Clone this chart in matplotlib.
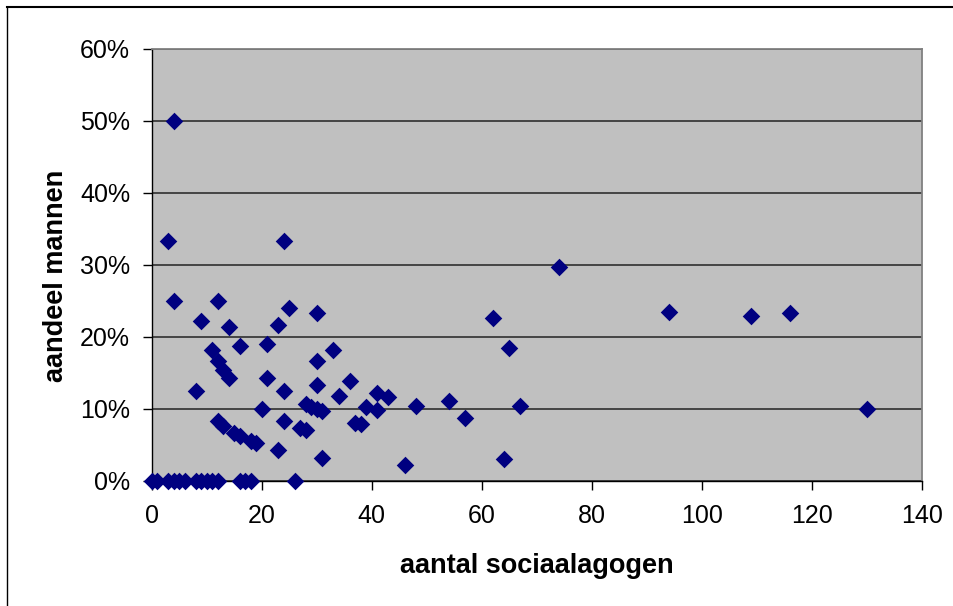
import numpy as np
import matplotlib.pyplot as plt
from matplotlib.lines import Line2D
from matplotlib.ticker import PercentFormatter

plt.rcParams['font.family'] = ['Liberation Sans', 'DejaVu Sans']

# number of sociaalagogen per organisation and share of men
aantal = [0, 1, 3, 4, 5, 6, 8, 9, 10, 11, 12, 16, 17, 18, 26,
          4, 3, 24, 74, 4, 12, 9, 14, 11, 12, 13, 14, 16, 8,
          12, 13, 15, 16, 18, 19, 20, 21, 21, 23, 23, 24, 24, 25,
          27, 28, 28, 29, 30, 30, 30, 30, 31, 31, 33, 34, 36, 37,
          38, 39, 41, 41, 43, 46, 48, 54, 57, 62, 64, 65, 67,
          94, 109, 116, 130]
aandeel = [0, 0, 0, 0, 0, 0, 0, 0, 0, 0, 0, 0, 0, 0, 0,
           0.500, 0.333, 0.333, 0.297, 0.250, 0.250, 0.222, 0.214, 0.182, 0.167, 0.154, 0.143, 0.1875, 0.125,
           0.083, 0.077, 0.067, 0.0625, 0.056, 0.053, 0.100, 0.190, 0.143, 0.217, 0.043, 0.125, 0.083, 0.240,
           0.074, 0.071, 0.107, 0.103, 0.233, 0.167, 0.133, 0.100, 0.097, 0.032, 0.182, 0.118, 0.139, 0.081,
           0.079, 0.103, 0.122, 0.098, 0.116, 0.022, 0.104, 0.111, 0.088, 0.226, 0.031, 0.185, 0.104,
           0.234, 0.229, 0.233, 0.100]

fig = plt.figure(figsize=(9.54, 6.06), dpi=100)
ax = fig.add_axes([0.159, 0.2063, 0.8071, 0.7133])
ax.set_facecolor('#C0C0C0')

ax.scatter(aantal, aandeel, marker='D', s=80, color='#000080', linewidths=0,
           zorder=3, clip_on=False)

ax.set_xlim(0, 140)
ax.set_ylim(0, 0.6)
ax.set_xticks(np.arange(0, 141, 20))
ax.set_yticks(np.arange(0, 0.61, 0.1))
ax.yaxis.set_major_formatter(PercentFormatter(1.0, decimals=0))
ax.grid(axis='y', color='#3a3a3a', linewidth=1.3, zorder=1)
ax.set_axisbelow(True)

for side in ['top', 'right']:
    ax.spines[side].set_color('#808080')
    ax.spines[side].set_linewidth(1.3)
for side in ['left', 'bottom']:
    ax.spines[side].set_color('black')
    ax.spines[side].set_linewidth(1.0)

ax.tick_params(axis='both', direction='out', length=6.5, width=1.0, labelsize=18)
ax.tick_params(axis='y', pad=9)
ax.tick_params(axis='x', pad=10)

ax.set_xlabel('aantal sociaalagogen', fontsize=19.5, fontweight='bold', labelpad=18)
ax.set_ylabel('aandeel mannen', fontsize=19.5, fontweight='bold', labelpad=8)
ax.yaxis.label.set_y(0.475)

# chart frame (left and top edge)
fig.add_artist(Line2D([7 / 954, 7 / 954], [0, 1 - 7 / 606], transform=fig.transFigure, color='black', linewidth=1.0))
fig.add_artist(Line2D([7 / 954, 1], [1 - 7 / 606, 1 - 7 / 606], transform=fig.transFigure, color='black', linewidth=1.5))

fig.savefig('out.png', dpi=100)
